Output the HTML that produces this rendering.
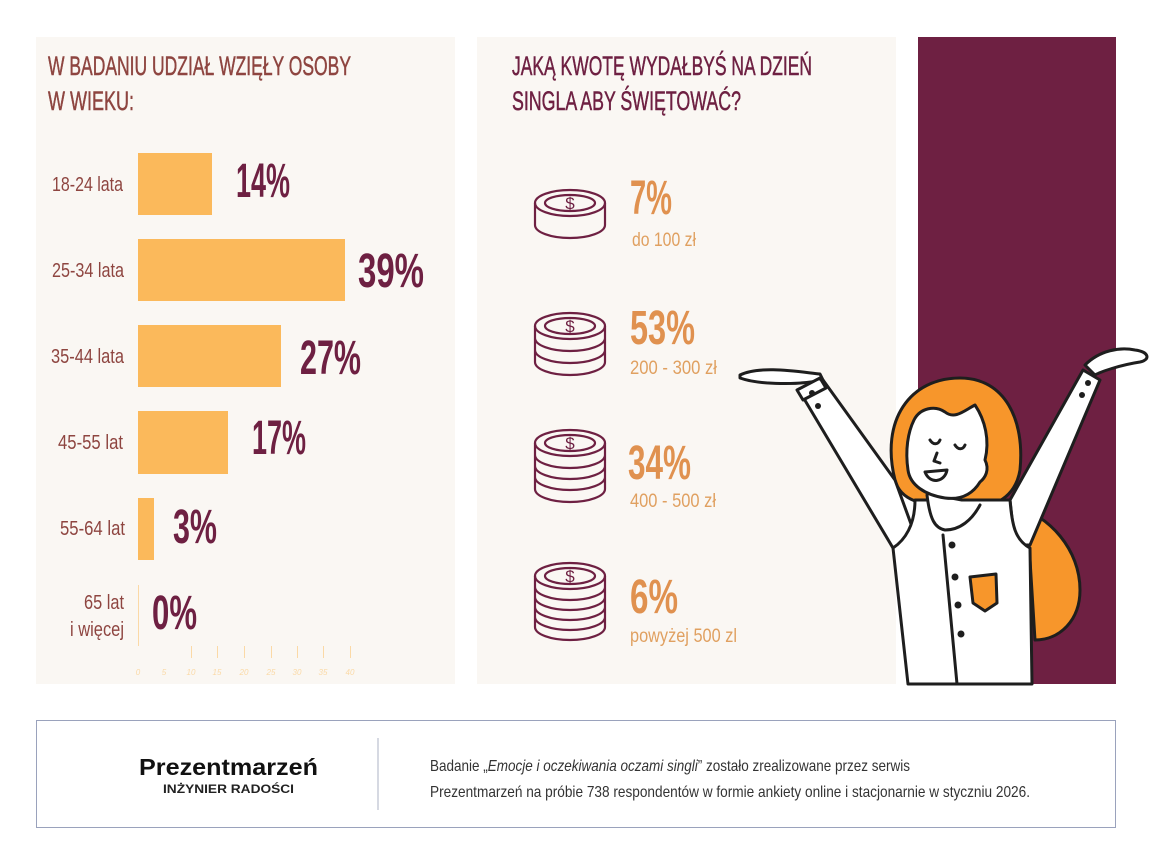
<!DOCTYPE html>
<html><head><meta charset="utf-8"><style>
html,body{margin:0;padding:0;background:#fff;width:1152px;height:865px;overflow:hidden}
svg text{font-family:"Liberation Sans Narrow","Liberation Sans",sans-serif}
</style></head><body>
<svg width="1152" height="865" viewBox="0 0 1152 865" xmlns="http://www.w3.org/2000/svg">
<rect x="36" y="37" width="419" height="647" fill="#faf7f3"/>
<rect x="477" y="37" width="419" height="647" fill="#faf7f3"/>
<rect x="918" y="37" width="198" height="647" fill="#6e2042"/>

<g fill="#8e4540" font-size="27" stroke="#8e4540" stroke-width="0.5">
<text x="48" y="75" textLength="303" lengthAdjust="spacingAndGlyphs">W BADANIU UDZIAŁ WZIĘŁY OSOBY</text>
<text x="48" y="110" textLength="86" lengthAdjust="spacingAndGlyphs">W WIEKU:</text>
</g>
<g fill="#fbb95b">
<rect x="138" y="153" width="74" height="62"/>
<rect x="138" y="239" width="207" height="62"/>
<rect x="138" y="325" width="143" height="62"/>
<rect x="138" y="411" width="90" height="63"/>
<rect x="138" y="498" width="16" height="62"/>
</g>
<line x1="138.5" y1="585" x2="138.5" y2="646" stroke="#fbd9a6" stroke-width="1"/>
<g stroke="#fbd9a6" stroke-width="1">
<line x1="191.5" y1="646" x2="191.5" y2="658"/><line x1="217.5" y1="646" x2="217.5" y2="658"/>
<line x1="244.5" y1="646" x2="244.5" y2="658"/><line x1="271.5" y1="646" x2="271.5" y2="658"/>
<line x1="297.5" y1="646" x2="297.5" y2="658"/><line x1="323.5" y1="646" x2="323.5" y2="658"/>
<line x1="350.5" y1="646" x2="350.5" y2="658"/>
</g>
<g fill="#fbd9a6" font-size="8" font-style="italic" text-anchor="middle">
<text x="138" y="675">0</text><text x="164" y="675">5</text><text x="191" y="675">10</text><text x="217" y="675">15</text><text x="244" y="675">20</text><text x="271" y="675">25</text><text x="297" y="675">30</text><text x="323" y="675">35</text><text x="350" y="675">40</text>
</g>
<g fill="#8e4540" font-size="20">
<text x="52" y="191" textLength="71" lengthAdjust="spacingAndGlyphs">18-24 lata</text>
<text x="52" y="277" textLength="72" lengthAdjust="spacingAndGlyphs">25-34 lata</text>
<text x="51" y="363" textLength="73" lengthAdjust="spacingAndGlyphs">35-44 lata</text>
<text x="58" y="449" textLength="65" lengthAdjust="spacingAndGlyphs">45-55 lat</text>
<text x="60" y="535" textLength="65" lengthAdjust="spacingAndGlyphs">55-64 lat</text>
<text x="84" y="609" textLength="40" lengthAdjust="spacingAndGlyphs">65 lat</text>
<text x="70" y="636" textLength="54" lengthAdjust="spacingAndGlyphs">i więcej</text>
</g>
<g fill="#6e2042" font-size="48" font-weight="bold">
<text x="236" y="197" textLength="54" lengthAdjust="spacingAndGlyphs">14%</text>
<text x="358" y="287" textLength="66" lengthAdjust="spacingAndGlyphs">39%</text>
<text x="300" y="374" textLength="61" lengthAdjust="spacingAndGlyphs">27%</text>
<text x="252" y="454" textLength="54" lengthAdjust="spacingAndGlyphs">17%</text>
<text x="173" y="543" textLength="44" lengthAdjust="spacingAndGlyphs">3%</text>
<text x="152" y="629" textLength="45" lengthAdjust="spacingAndGlyphs">0%</text>
</g>

<g fill="#6e2042" font-size="27" stroke="#6e2042" stroke-width="0.5">
<text x="512" y="75" textLength="300" lengthAdjust="spacingAndGlyphs">JAKĄ KWOTĘ WYDAŁBYŚ NA DZIEŃ</text>
<text x="512" y="110" textLength="229" lengthAdjust="spacingAndGlyphs">SINGLA ABY ŚWIĘTOWAĆ?</text>
</g>
<g fill="none" stroke="#6e2042" stroke-width="2.2">
<ellipse cx="570" cy="203" rx="35" ry="13"/><ellipse cx="570" cy="203" rx="25" ry="8"/>
<path d="M535 203 v22 a35 13 0 0 0 70 0 v-22"/>
<ellipse cx="570" cy="326" rx="35" ry="13"/><ellipse cx="570" cy="326" rx="25" ry="8"/>
<path d="M535 326 v36 a35 13 0 0 0 70 0 v-36 M535 338 a35 13 0 0 0 70 0 M535 350 a35 13 0 0 0 70 0"/>
<ellipse cx="570" cy="443" rx="35" ry="13"/><ellipse cx="570" cy="443" rx="25" ry="8"/>
<path d="M535 443 v46 a35 13 0 0 0 70 0 v-46 M535 455 a35 13 0 0 0 70 0 M535 466 a35 13 0 0 0 70 0 M535 477 a35 13 0 0 0 70 0"/>
<ellipse cx="570" cy="576" rx="35" ry="13"/><ellipse cx="570" cy="576" rx="25" ry="8"/>
<path d="M535 576 v51 a35 13 0 0 0 70 0 v-51 M535 587 a35 13 0 0 0 70 0 M535 597 a35 13 0 0 0 70 0 M535 607 a35 13 0 0 0 70 0 M535 617 a35 13 0 0 0 70 0"/>
</g>
<g fill="#6e2042" font-size="17" text-anchor="middle">
<text x="570" y="209">$</text><text x="570" y="332">$</text><text x="570" y="449">$</text><text x="570" y="582">$</text>
</g>
<g fill="#e0914f" font-size="48" font-weight="bold">
<text x="630" y="214" textLength="42" lengthAdjust="spacingAndGlyphs">7%</text>
<text x="630" y="344" textLength="65" lengthAdjust="spacingAndGlyphs">53%</text>
<text x="628" y="479" textLength="63" lengthAdjust="spacingAndGlyphs">34%</text>
<text x="630" y="613" textLength="48" lengthAdjust="spacingAndGlyphs">6%</text>
</g>
<g fill="#e0a060" font-size="19">
<text x="632" y="246" textLength="64" lengthAdjust="spacingAndGlyphs">do 100 zł</text>
<text x="630" y="374" textLength="87" lengthAdjust="spacingAndGlyphs">200 - 300 zł</text>
<text x="630" y="507" textLength="86" lengthAdjust="spacingAndGlyphs">400 - 500 zł</text>
<text x="630" y="642" textLength="107" lengthAdjust="spacingAndGlyphs">powyżej 500 zl</text>
</g>

<g stroke="#1e1e1e" stroke-width="3" stroke-linejoin="round" stroke-linecap="round">
<path d="M1012 505 C1050 515 1080 550 1080 590 C1080 620 1060 640 1035 640 L1030 560 Z" fill="#f7962b"/>
<path d="M895 480 C880 420 910 378 960 378 C1005 378 1025 420 1020 470 C1015 500 990 510 960 508 C920 506 900 500 895 480 Z" fill="#f7962b"/>
<path d="M800 392 L893 548 L915 535 L895 480 L823 380 Z" fill="#fff"/>
<path d="M740 375 C760 365 800 372 820 374 L823 380 C800 385 760 385 740 378 Z" fill="#fff"/>
<path d="M797 390 L820 378 L826 388 L803 400 Z" fill="#fff"/>
<path d="M1083 370 L1010 500 L1015 545 L1030 545 L1100 380 Z" fill="#fff"/>
<path d="M1085 365 C1100 350 1120 347 1135 350 C1150 352 1150 360 1140 362 C1120 365 1100 372 1095 375 Z" fill="#fff"/>
<path d="M893 548 C905 540 915 525 915 500 L1010 500 C1012 525 1015 540 1030 548 L1032 684 L908 684 Z" fill="#fff"/>
<line x1="943" y1="535" x2="957" y2="684"/>
<path d="M927 495 C930 520 935 528 945 530 C960 530 972 520 980 505" fill="#fff"/>
<path d="M914 420 C920 408 935 405 945 412 C955 420 965 410 975 405 C985 420 990 440 985 460 C990 470 985 478 980 482 C972 495 960 500 945 498 C925 495 910 485 908 470 C905 450 908 432 914 420 Z" fill="#fff"/>
<path d="M925 472 C930 485 945 482 947 470 Z" fill="#fff"/>
<path d="M930 440 c3 5 8 5 10 0 M955 445 c3 5 8 5 10 0 M937 453 l-3 8 l6 2" fill="none"/>
<path d="M970 577 L996 574 L997 603 L985 611 L973 603 Z" fill="#f7962b"/>
</g>
<g fill="#1e1e1e">
<circle cx="952" cy="545" r="3.5"/><circle cx="955" cy="577" r="3.5"/><circle cx="958" cy="605" r="3.5"/><circle cx="961" cy="634" r="3.5"/>
<circle cx="812" cy="393" r="3"/><circle cx="818" cy="406" r="3"/>
<circle cx="1088" cy="383" r="3"/><circle cx="1082" cy="395" r="3"/>
</g>

<rect x="36.5" y="720.5" width="1079" height="107" fill="#fff" stroke="#9aa2bc" stroke-width="1"/>
<line x1="378" y1="738" x2="378" y2="810" stroke="#c8ccd8" stroke-width="1.5"/>
<text x="139" y="775" font-family="Liberation Sans,sans-serif" font-size="23" font-weight="bold" fill="#111" textLength="179" lengthAdjust="spacingAndGlyphs">Prezentmarzeń</text>
<text x="163" y="793" font-family="Liberation Sans,sans-serif" font-size="11.5" font-weight="bold" fill="#222" textLength="131" lengthAdjust="spacingAndGlyphs">INŻYNIER RADOŚCI</text>
<g fill="#333" font-size="16">
<text x="430" y="771" textLength="480" lengthAdjust="spacingAndGlyphs">Badanie „<tspan font-style="italic">Emocje i oczekiwania oczami singli</tspan>” zostało zrealizowane przez serwis</text>
<text x="430" y="797" textLength="600" lengthAdjust="spacingAndGlyphs">Prezentmarzeń na próbie 738 respondentów w formie ankiety online i stacjonarnie w styczniu 2026.</text>
</g>
</svg>
</body></html>
